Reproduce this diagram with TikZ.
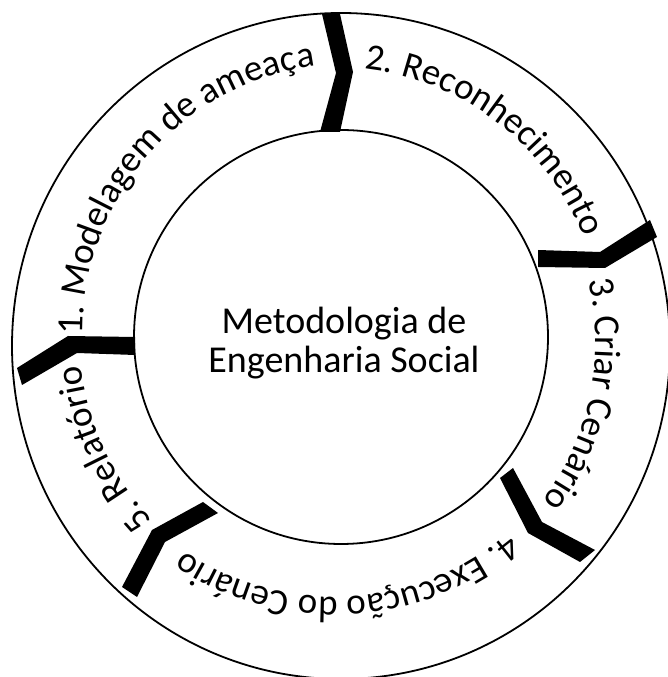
\documentclass[tikz,border=0pt]{standalone}
\usepackage{fontspec}
\setmainfont{Carlito}
\usetikzlibrary{decorations.text,calc}
\newcommand\ringfont{\fontsize{37}{40}\selectfont}
\tikzset{
  ringline/.style={line width=1.8pt, draw=black},
  chevron/.style={fill=black, draw=none},
  title/.style={font=\fontsize{38}{39}\selectfont, align=center, inner sep=0pt},
}
% label on a clockwise arc: centre, radius, middle angle, text
\newcommand\arclabel[4]{%
  \path[decorate, decoration={text along path, text align=center,
      text={|\ringfont|#4}}]
    ($#1+(#3+70:#2)$) arc[start angle=#3+70, end angle=#3-70, radius=#2];}
\begin{document}
\begin{tikzpicture}[x=1pt,y=1pt]
  % page frame
  \fill[white] (0,0) rectangle (667,677);
  \useasboundingbox (0,0) rectangle (667,677);

  % circles of the cycle
  \coordinate (oc) at (341,331);
  \coordinate (ic) at (341,340);
  \draw[ringline] (oc) ellipse[x radius=329, y radius=333];
  \draw[ringline] (ic) circle[radius=207];

  % centre title
  \node[title] (titulo) at (344,334) {Metodologia de\\Engenharia Social};

  % chevrons separating the stages
  \fill[chevron] (322,663) -- (340,663) -- (353,605) -- (340,545) -- (320,545) -- (336,604) -- cycle;
  \fill[chevron] (538,427) -- (600,425) -- (650,457) -- (657,440) -- (605,409) -- (538,410) -- cycle;
  \fill[chevron] (500,199) -- (513,209) -- (542,155) -- (595,127) -- (580,115) -- (528,144) -- cycle;
  \fill[chevron] (203,175) -- (218,164) -- (165,135) -- (137,80) -- (122,90) -- (152,147) -- cycle;
  \fill[chevron] (135,340) -- (68,341) -- (17,309) -- (22,292) -- (77,324) -- (135,322) -- cycle;

  % stage labels along the ring
  \arclabel{(351,345.5)}{268}{139.1}{1. Modelagem de ameaça}
  \arclabel{(334,342)}{268}{52.4}{2. Reconhecimento}
  \arclabel{(327.6,336)}{268}{-11.9}{3. Criar Cenário}
  \arclabel{(334.8,347.8)}{268}{-87}{4. Execução do Cenário}
  \arclabel{(347.6,340.8)}{268}{204.8}{5. Relatório}
\end{tikzpicture}
\end{document}
